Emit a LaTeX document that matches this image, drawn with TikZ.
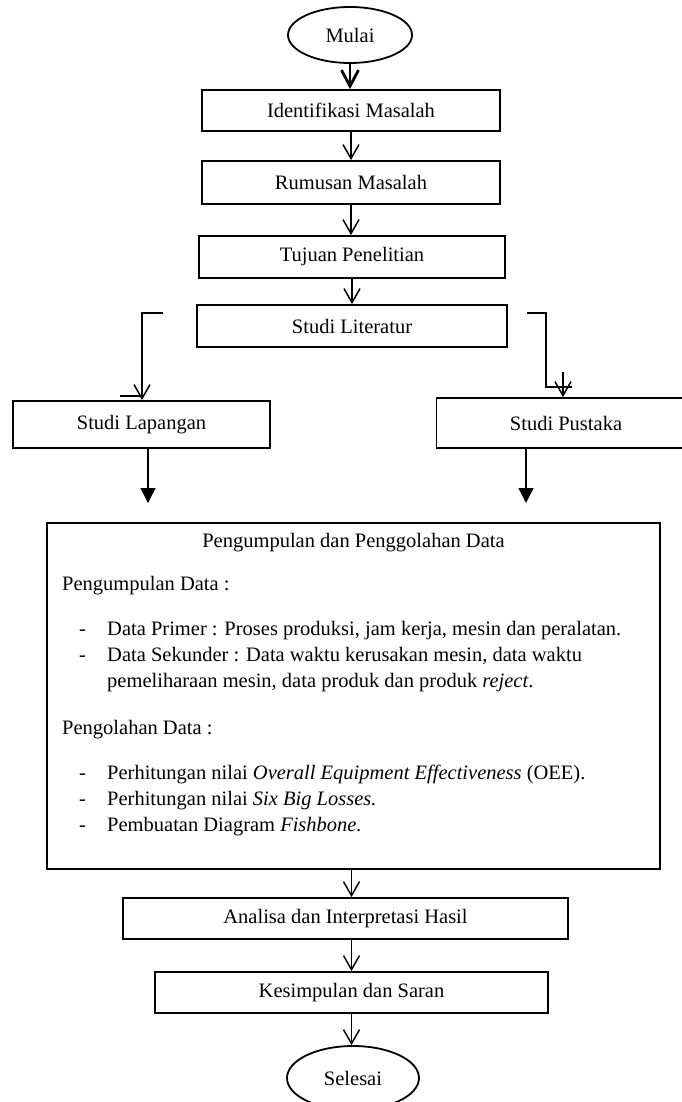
\documentclass[tikz,border=0pt]{standalone}
\usepackage{fontspec}
\setmainfont{Liberation Serif}
\usetikzlibrary{shapes.geometric,arrows.meta}
\newcommand\diagfont{\fontsize{20.5}{26}\selectfont}
\begin{document}
\begin{tikzpicture}[x=1pt,y=-1pt,
  box/.style={draw,line width=1.8pt,rectangle,inner sep=0pt,font=\diagfont},
  term/.style={draw,line width=1.8pt,ellipse,inner sep=0pt,font=\diagfont},
  txt/.style={inner sep=0pt,anchor=base west,font=\diagfont},
  conn/.style={line width=1.5pt},
  varrow/.style={line width=1.5pt,-{Straight Barb[length=14pt,width=16pt]}},
  farrow/.style={line width=1.5pt,-{Triangle[length=15pt,width=15pt]}}]
\clip (0,0) rectangle (682,1102);
\fill[white] (0,0) rectangle (682,1102);
% terminals and boxes
\node[term,minimum width=124pt,minimum height=56pt] (mulai) at (350,35) {Mulai};
\node[box,minimum width=298pt,minimum height=41pt] (idm) at (351,110.5) {Identifikasi Masalah};
\node[box,minimum width=298pt,minimum height=43pt] (rum) at (351,182.5) {Rumusan Masalah};
\node[box,minimum width=306pt,minimum height=42pt] (tuj) at (352,257) {Tujuan Penelitian};
\node[box,minimum width=310pt,minimum height=42pt] (lit) at (352,326) {Studi Literatur};
\node[box,minimum width=257pt,minimum height=47pt] (lap) at (141.5,424.5) {Studi Lapangan};
\node[box,minimum width=259pt,minimum height=50pt] (pus) at (566,423) {Studi Pustaka};
\node[box,minimum width=613pt,minimum height=346pt] (big) at (353.5,696) {};
\node[box,minimum width=445pt,minimum height=41pt] (ana) at (345.5,918.5) {Analisa dan Interpretasi Hasil};
\node[box,minimum width=393pt,minimum height=41pt] (kes) at (351.5,992.5) {Kesimpulan dan Saran};
\node[term,minimum width=132pt,minimum height=64pt] (sel) at (353,1078) {Selesai};
% text inside the large box
\node[inner sep=0pt,anchor=base,font=\diagfont] (t0) at (353.5,547) {Pengumpulan dan Penggolahan Data};
\node[txt] (t1) at (62,590) {Pengumpulan Data :};
\node[txt] (d1) at (79,635) {-};
\node[txt] (t2) at (107,635) {Data Primer : Proses produksi, jam kerja, mesin dan peralatan.};
\node[txt] (d2) at (79,661) {-};
\node[txt] (t3) at (107,661) {Data Sekunder : Data waktu kerusakan mesin, data waktu};
\node[txt] (t4) at (107,687) {pemeliharaan mesin, data produk dan produk \textit{reject}.};
\node[txt] (t5) at (62,734) {Pengolahan Data :};
\node[txt] (d3) at (79,779) {-};
\node[txt] (t6) at (107,779) {Perhitungan nilai \textit{Overall Equipment Effectiveness} (OEE).};
\node[txt] (d4) at (79,805) {-};
\node[txt] (t7) at (107,805) {Perhitungan nilai \textit{Six Big Losses.}};
\node[txt] (d5) at (79,831) {-};
\node[txt] (t8) at (107,831) {Pembuatan Diagram \textit{Fishbone.}};
% coordinates for brackets
\coordinate (lbA) at (163,313);
\coordinate (lbB) at (142,313);
\coordinate (lbT) at (120,396);
\coordinate (rbA) at (527,313);
\coordinate (rbB) at (546,313);
\coordinate (rbC) at (546,387);
\coordinate (rbD) at (572,387);
\coordinate (rbS) at (563,372);
\coordinate (lapE) at (148,503);
\coordinate (pusE) at (526,503);
% connectors
\draw[line width=2.8pt,-{Straight Barb[length=16pt,width=17pt]}] (mulai.south) -- (idm.north -| mulai.south);
\draw[varrow] (idm.south) -- (rum.north);
\draw[varrow] (rum.south) -- (rum.south |- tuj.north);
\draw[varrow] (tuj.south) -- (tuj.south |- lit.north);
\draw[varrow] (lbA) -- (lbB) -- (lbB |- lap.north);
\draw[conn] (lbT) -- (lbB |- lbT);
\draw[conn] (rbA) -- (rbB) -- (rbC) -- (rbD);
\draw[varrow] (rbS) -- (rbS |- pus.north);
\draw[farrow] (lapE |- lap.south) -- (lapE);
\draw[farrow] (pusE |- pus.south) -- (pusE);
\draw[varrow] (big.south -| kes.north) -- (kes.north |- ana.north);
\draw[varrow] (ana.south -| kes.north) -- (kes.north);
\draw[varrow] (kes.south) -- (kes.south |- sel.north);
\end{tikzpicture}
\end{document}
